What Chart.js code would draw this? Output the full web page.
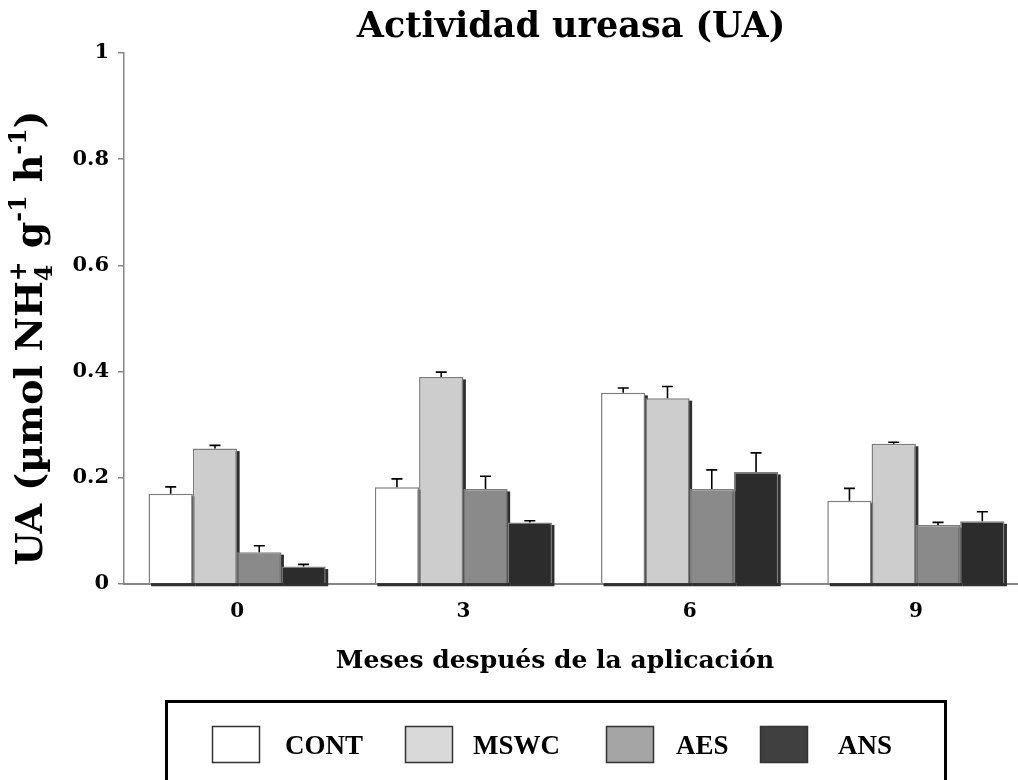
<!DOCTYPE html>
<html>
<head>
<meta charset="utf-8">
<script src="https://cdn.jsdelivr.net/npm/chart.js@4.4.1/dist/chart.umd.min.js"></script>
<style>
  html, body { margin: 0; padding: 0; background: #fff; overflow: hidden; }
  #wrap { width: 1018px; height: 780px; overflow: hidden; }
  canvas { display: block; }
</style>
</head>
<body>
<div id="wrap"><canvas id="c" width="1030" height="780"></canvas></div>
<script>
// Months after application (x categories)
const months = ['0', '3', '6', '9'];
const treatments = ['CONT', 'MSWC', 'AES', 'ANS'];

// Urease activity means and standard errors per treatment
const contValues = [0.170, 0.182, 0.360, 0.157];
const contErrors = [0.013, 0.016, 0.009, 0.023];
const mswcValues = [0.255, 0.390, 0.350, 0.264];
const mswcErrors = [0.006, 0.009, 0.022, 0.003];
const aesValues  = [0.060, 0.179, 0.179, 0.111];
const aesErrors  = [0.012, 0.024, 0.036, 0.005];
const ansValues  = [0.033, 0.116, 0.211, 0.118];
const ansErrors  = [0.004, 0.003, 0.036, 0.018];

const yTicks = [0, 0.2, 0.4, 0.6, 0.8, 1];

const valueSets = [contValues, mswcValues, aesValues, ansValues];
const errorSets = [contErrors, mswcErrors, aesErrors, ansErrors];
const barFills = ['#ffffff', '#cdcdcd', '#8a8a8a', '#2c2c2c'];
const swatchFills = ['#ffffff', '#d9d9d9', '#a5a5a5', '#404040'];

const SERIF = '"DejaVu Serif", serif';
const TIMES = '"Liberation Serif", "Times New Roman", serif';
const AXIS_GREY = '#868686';

// Drop shadow behind each bar (right and bottom edges)
const barShadow = {
  id: 'barShadow',
  beforeDatasetsDraw(chart) {
    const ctx = chart.ctx;
    ctx.save();
    ctx.fillStyle = '#2e2e2e';
    chart.data.datasets.forEach((ds, i) => {
      chart.getDatasetMeta(i).data.forEach(bar => {
        const w = bar.width;
        ctx.fillRect(bar.x - w / 2 + 2.5, bar.y + 2.5, w, bar.base - bar.y + 0.5);
      });
    });
    ctx.restore();
  }
};

// Upper error whiskers
const errorBars = {
  id: 'errorBars',
  afterDatasetsDraw(chart) {
    const ctx = chart.ctx;
    const yScale = chart.scales.y;
    ctx.save();
    ctx.strokeStyle = '#000';
    ctx.lineWidth = 1.6;
    chart.data.datasets.forEach((ds, i) => {
      chart.getDatasetMeta(i).data.forEach((bar, j) => {
        const top = yScale.getPixelForValue(ds.data[j] + ds.errors[j]);
        ctx.beginPath();
        ctx.moveTo(bar.x, bar.y);
        ctx.lineTo(bar.x, top);
        ctx.moveTo(bar.x - 5.5, top);
        ctx.lineTo(bar.x + 5.5, top);
        ctx.stroke();
      });
    });
    ctx.restore();
  }
};

// Measures / draws a run of text pieces with sub- and superscripts
function richWidth(ctx, parts, size) {
  let w = 0, prevW = 0;
  parts.forEach(p => {
    const s = p.small ? size * 0.62 : size;
    ctx.font = 'bold ' + s + 'px ' + SERIF;
    const pw = ctx.measureText(p.t).width;
    if (p.stack) { w += Math.max(0, pw - prevW); }
    else { w += pw; }
    prevW = pw;
  });
  return w;
}
function drawRich(ctx, parts, x, y, size) {
  let cx = x, lastStart = x, lastW = 0;
  parts.forEach(p => {
    const s = p.small ? size * 0.62 : size;
    ctx.font = 'bold ' + s + 'px ' + SERIF;
    const pw = ctx.measureText(p.t).width;
    const dy = p.sub ? size * 0.28 : (p.sup ? -size * 0.42 : 0);
    const startX = p.stack ? lastStart : cx;
    ctx.fillText(p.t, startX, y + dy);
    if (p.stack) { cx = lastStart + Math.max(lastW, pw); }
    else { lastStart = cx; lastW = pw; cx += pw; }
  });
}

const yTitleParts = [
  { t: 'UA (µmol NH' },
  { t: '4', small: true, sub: true },
  { t: '+', small: true, sup: true, stack: true },
  { t: ' g' },
  { t: '-1', small: true, sup: true },
  { t: ' h' },
  { t: '-1', small: true, sup: true },
  { t: ')' }
];

// Titles and boxed legend
const annotations = {
  id: 'annotations',
  afterDraw(chart) {
    const ctx = chart.ctx;
    ctx.save();
    ctx.fillStyle = '#000';
    ctx.textBaseline = 'alphabetic';

    // Main title
    ctx.textAlign = 'center';
    ctx.font = 'bold 35px ' + SERIF;
    ctx.fillText('Actividad ureasa (UA)', 571, 37);

    // X axis title
    ctx.font = 'bold 25px ' + SERIF;
    ctx.fillText('Meses después de la aplicación', 555, 668);

    // Y axis title (rotated)
    const ySize = 38;
    ctx.textAlign = 'left';
    const tw = richWidth(ctx, yTitleParts, ySize);
    ctx.translate(28, 338);
    ctx.rotate(-Math.PI / 2);
    drawRich(ctx, yTitleParts, -tw / 2, ySize * 0.36, ySize);
    ctx.setTransform(1, 0, 0, 1, 0, 0);

    // Legend box
    ctx.lineWidth = 3;
    ctx.strokeStyle = '#000';
    ctx.strokeRect(166.5, 701.5, 779, 100);
    const swatchX = [212, 405, 606, 760];
    const labelX = [285, 473, 676, 838];
    ctx.font = 'bold 27px ' + TIMES;
    ctx.textAlign = 'left';
    chart.data.datasets.forEach((ds, i) => {
      ctx.fillStyle = swatchFills[i];
      ctx.fillRect(swatchX[i], 726, 48, 37);
      ctx.lineWidth = 1.5;
      ctx.strokeStyle = '#333';
      ctx.strokeRect(swatchX[i] + 0.5, 726.5, 47, 36);
      ctx.fillStyle = '#000';
      ctx.fillText(ds.label, labelX[i], 754);
    });
    ctx.restore();
  }
};

new Chart(document.getElementById('c'), {
  type: 'bar',
  data: {
    labels: months,
    datasets: treatments.map((name, i) => ({
      label: name,
      data: valueSets[i],
      errors: errorSets[i],
      backgroundColor: barFills[i],
      borderColor: '#7d7d7d',
      borderWidth: 1.5,
      categoryPercentage: 0.783,
      barPercentage: 1.0
    }))
  },
  options: {
    responsive: false,
    animation: false,
    devicePixelRatio: 1,
    layout: { padding: { left: 0, top: 53, right: 1, bottom: 0 } },
    plugins: {
      legend: { display: false },
      title: { display: false },
      tooltip: { enabled: false }
    },
    scales: {
      x: {
        grid: { display: false, drawTicks: false },
        border: { display: true, color: AXIS_GREY, width: 2 },
        ticks: {
          color: '#000',
          padding: 16,
          font: { family: SERIF, size: 20, weight: 'bold' }
        },
        afterFit(scale) { scale.height = 196; }
      },
      y: {
        min: 0,
        max: 1,
        afterBuildTicks(scale) { scale.ticks = yTicks.map(v => ({ value: v })); },
        grid: { display: true, drawOnChartArea: false, drawTicks: true, tickLength: 6, color: AXIS_GREY, lineWidth: 1.5 },
        border: { display: true, color: AXIS_GREY, width: 1.5 },
        ticks: {
          color: '#000',
          padding: 9,
          font: { family: SERIF, size: 21, weight: 'bold' },
          callback: v => (v === 0 || v === 1) ? String(v) : v.toFixed(1)
        },
        afterFit(scale) { scale.width = 124; }
      }
    }
  },
  plugins: [barShadow, errorBars, annotations]
});
</script>
</body>
</html>
